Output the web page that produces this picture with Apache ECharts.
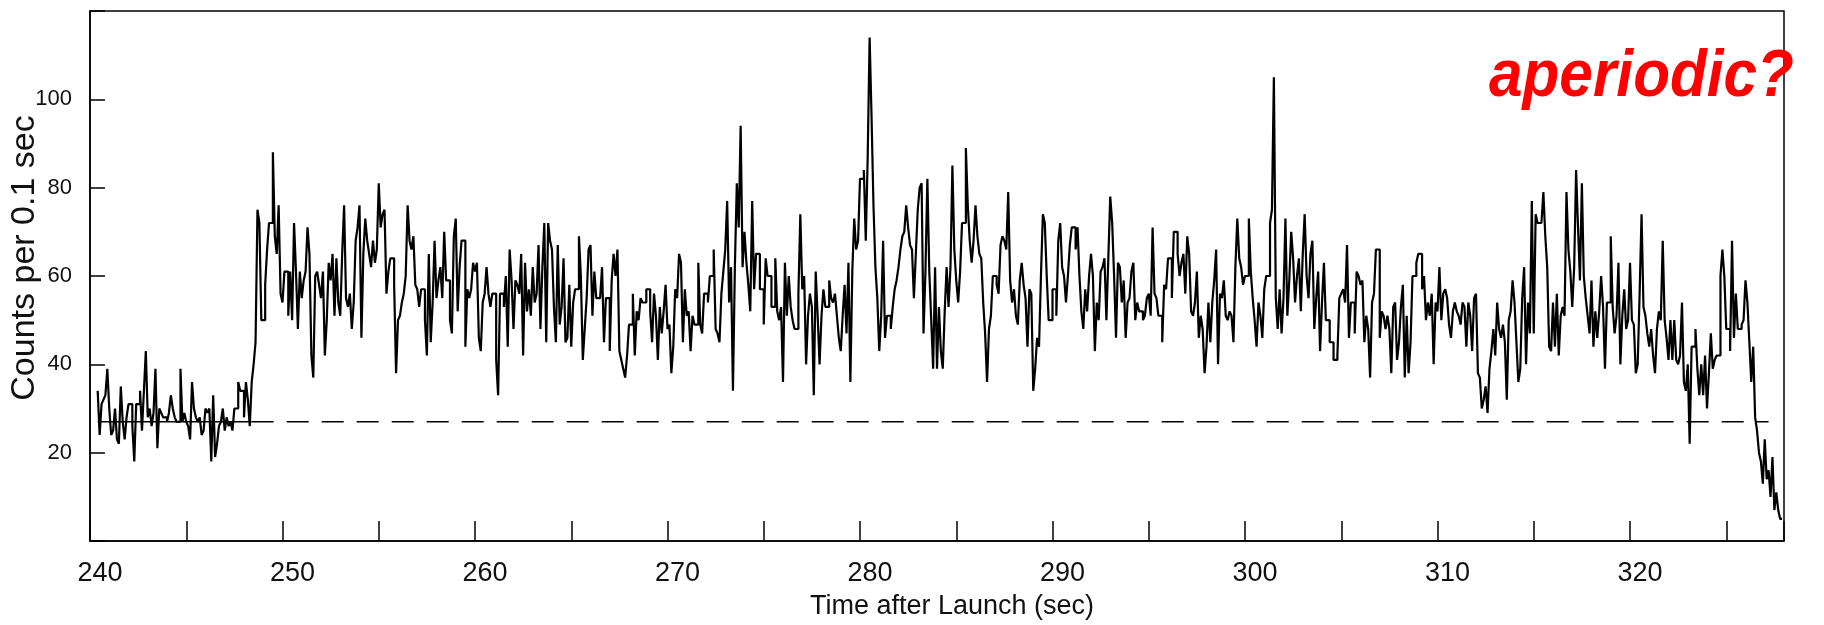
<!DOCTYPE html>
<html>
<head>
<meta charset="utf-8">
<script src="https://cdn.jsdelivr.net/npm/echarts@6/dist/echarts.min.js"></script>
<style>
html,body{margin:0;padding:0;background:#fff;}
#chart{width:1824px;height:625px;}
</style>
</head>
<body>
<div id="chart"></div>
<script>
// ---- data ----
const binStart = 240.4;      // time of first 0.1 s bin (sec)
const binWidth = 0.1;        // sec
const counts = [
34,24,31,32,33,39,30,24,25,30,23,22,35,27,23,28,31,31,26,18,31,31,34,25,34,43,28,30,26,29,
39,21,30,29,28,28,27,29,33,30,28,27,27,39,27,29,27,26,23,36,30,28,27,28,24,25,30,29,30,18,
33,19,22,26,27,30,25,28,26,
27,25,30,30,36,34,34,28,36,32,26,36,40,45,
75,72,50,50,58,66,72,72,88,69,65,76,56,54,61,61,51,61,50,72,61,48,61,55,59,61,71,65,42,37,
60,61,58,55,61,42,50,63,59,65,51,64,54,51,65,76,55,53,56,48,54,68,71,76,46,65,73,68,65,62,
68,63,66,81,71,74,75,56,61,64,64,58,38,50,51,54,56,60,76,68,66,69,58,57,53,57,57,50,42,65,
45,54,68,55,59,62,55,70,59,59,50,47,69,73,52,62,68,68,44,57,55,57,63,61,63,46,43,54,56,62,
56,53,56,56,41,33,56,56,53,60,44,66,59,48,59,
58,56,65,42,63,52,57,51,62,54,56,67,48,62,72,45,72,68,66,53,45,67,49,53,64,45,46,58,44,54,
57,57,69,60,41,48,55,66,67,51,61,55,55,55,62,45,55,55,43,59,65,60,66,43,41,39,37,42,49,49,
56,42,52,50,55,54,54,57,57,52,45,56,51,41,
53,47,52,58,48,49,38,44,57,55,65,63,45,57,51,52,43,51,49,49,63,49,47,56,56,54,60,60,66,48,
47,45,56,61,66,77,54,62,34,62,81,71,94,62,70,63,58,52,77,57,65,65,57,57,49,64,60,60,53,53,
64,52,50,53,36,63,51,60,53,50,48,48,56,74,57,
60,40,51,56,53,33,61,51,40,51,57,53,53,59,55,54,56,51,46,43,51,58,47,63,36,61,73,66,68,82,
82,84,68,87,114,96,76,62,55,43,51,68,46,51,51,48,53,57,59,62,66,69,70,76,71,67,66,55,65,75,
80,81,47,61,82,61,50,39,62,39,53,43,39,52,
62,53,62,85,66,59,54,61,72,72,89,76,68,63,68,76,69,65,64,54,47,36,48,51,60,60,58,56,67,69,
68,66,79,59,54,57,51,49,59,63,58,55,44,57,56,34,39,46,44,60,74,72,60,50,50,57,57,51,68,72,
62,60,54,60,67,71,71,66,71,60,52,48,57,52,
60,65,60,43,54,50,61,62,64,50,64,78,72,60,46,63,62,54,59,46,54,55,61,63,50,54,52,52,50,51,
55,56,51,71,56,55,51,51,45,58,57,64,64,55,70,70,65,60,63,65,56,69,65,52,51,54,61,46,51,48,
38,44,54,45,54,59,66,40,56,55,59,51,50,52,
51,45,62,73,64,62,58,60,60,73,61,55,50,44,54,51,46,57,60,60,72,75,105,55,48,57,47,55,73,51,
59,70,64,54,60,64,52,65,74,60,55,65,68,48,55,61,43,54,63,50,50,45,45,41,41,42,55,56,57,54,
67,46,54,54,47,61,60,58,59,45,51,48,37,54,56,
66,66,46,52,51,48,51,48,38,53,54,41,45,53,58,37,51,38,45,60,60,63,65,65,57,60,50,54,51,56,
40,54,52,62,50,56,57,55,49,46,52,54,52,51,49,54,53,44,54,51,43,55,56,38,37,30,32,35,29,39,
43,48,42,54,48,46,49,45,32,50,52,59,54,45,
36,39,55,62,40,54,47,77,47,74,72,72,72,79,69,62,44,43,54,44,56,42,51,53,51,79,66,61,53,62,
84,71,59,81,60,55,51,47,59,44,52,46,52,60,53,39,54,54,69,53,47,51,63,40,51,57,48,50,63,50,
49,38,40,56,74,53,51,47,44,48,42,38,48,52,
50,68,50,46,41,50,41,50,41,40,42,54,36,34,40,22,44,44,48,39,33,40,33,42,30,38,47,39,41,42,
42,60,66,60,48,48,43,68,46,56,48,48,49,50,59,54,45,36,44,28,25,20,18,13,23,14,16,10,19,7,
11,7,5
];
const background = 27;              // pre-source background level
const backgroundSolid = [240.4, 248.4];
const backgroundDashed = [248.4, 327.2];
const xTicks = [240, 250, 260, 270, 280, 290, 300, 310, 320];
const yTicks = [20, 40, 60, 80, 100];
const xTitle = 'Time after Launch (sec)';
const yTitle = 'Counts per 0.1 sec';
const note = 'aperiodic?';

// ---- build series ----
const stepData = counts.map((v, i) => [+(binStart + i * binWidth).toFixed(2), v]);
stepData.push([+(binStart + counts.length * binWidth).toFixed(2), counts[counts.length - 1]]);

const font = 'Liberation Sans';
const chart = echarts.init(document.getElementById('chart'), null, {renderer: 'canvas'});
chart.setOption({
  animation: false,
  backgroundColor: '#ffffff',
  grid: {left: 90, right: 40, top: 11, bottom: 84, show: true, borderColor: '#000', borderWidth: 1.5, outerBoundsMode: 'none'},
  xAxis: {
    type: 'value', min: 240, max: 328, interval: 5,
    axisLine: {show: true, lineStyle: {color: '#000', width: 1.5}},
    axisTick: {show: true, inside: true, length: 20, lineStyle: {color: '#000', width: 1.5}},
    axisLabel: {
      color: '#111', fontFamily: font, fontSize: 27, margin: 19, padding: [0, 0, 0, 20],
      formatter: v => xTicks.indexOf(v) >= 0 ? String(v) : ''
    },
    splitLine: {show: false},
    name: xTitle, nameLocation: 'middle', nameGap: 52, nameMoveOverlap: false,
    nameTextStyle: {color: '#111', fontFamily: font, fontSize: 27, padding: [0, 0, 0, 30]}
  },
  yAxis: {
    type: 'value', min: 0, max: 120, interval: 20,
    axisLine: {show: true, lineStyle: {color: '#000', width: 1.5}},
    axisTick: {show: true, inside: true, length: 15, lineStyle: {color: '#000', width: 1.5}},
    axisLabel: {
      color: '#111', fontFamily: font, fontSize: 22, margin: 18,
      formatter: v => yTicks.indexOf(v) >= 0 ? String(v) : ''
    },
    splitLine: {show: false},
    name: yTitle, nameLocation: 'middle', nameGap: 48, nameRotate: 90, nameMoveOverlap: false,
    nameTextStyle: {color: '#111', fontFamily: font, fontSize: 34, padding: [0, 0, 0, 36]}
  },
  graphic: [{
    type: 'text', x: 1489, y: 78, scaleX: 0.9,
    style: {text: note, fill: '#ff0000', fontFamily: font, fontSize: 67,
            fontWeight: 'bold', fontStyle: 'italic', textAlign: 'left', textVerticalAlign: 'middle'}
  }],
  series: [
    {
      type: 'line', step: 'end', data: stepData, showSymbol: false, symbol: 'none',
      lineStyle: {color: '#000', width: 2.2}, z: 3
    },
    {
      type: 'line', data: [[backgroundSolid[0], background], [backgroundSolid[1], background]],
      showSymbol: false, symbol: 'none', lineStyle: {color: '#000', width: 1.5}, z: 2
    },
    {
      type: 'line', data: [[backgroundDashed[0], background], [backgroundDashed[1], background]],
      showSymbol: false, symbol: 'none', lineStyle: {color: '#000', width: 1.5, type: [22, 13]}, z: 2
    }
  ]
});
</script>
</body>
</html>
